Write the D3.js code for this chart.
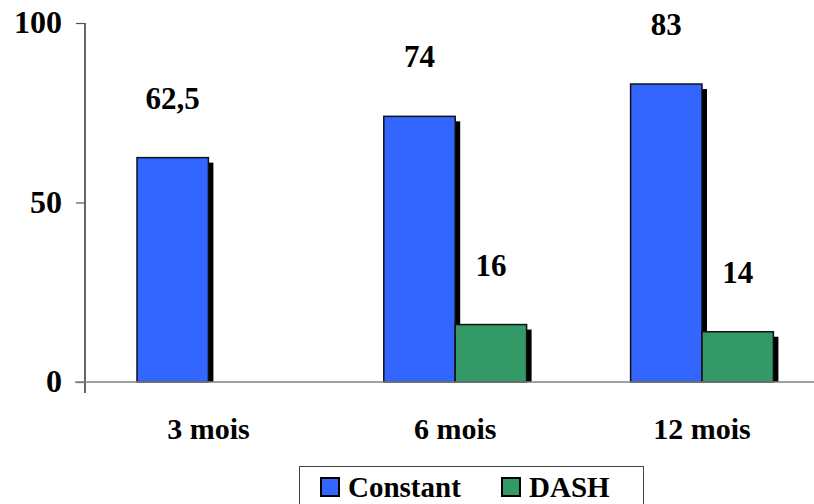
<!DOCTYPE html>
<html>
<head>
<meta charset="utf-8">
<script src="https://cdn.jsdelivr.net/npm/d3@7"></script>
<style>
  html, body { margin: 0; padding: 0; background: #fff; }
  svg { display: block; }
  text { font-family: "Liberation Serif", "Times New Roman", serif; font-weight: bold; fill: #000; }
</style>
</head>
<body>
<script>
const categories = ["3 mois", "6 mois", "12 mois"];
const seriesNames = ["Constant", "DASH"];
const constantValues = [62.5, 74, 83];
const dashValues = [null, 16, 14];
const valueLabels = [["62,5", "74", "83"], [null, "16", "14"]];
const yTicks = [0, 50, 100];
const colors = ["#3366FF", "#339966"];

const W = 814, H = 504;
const FONT = '"Liberation Serif", "Times New Roman", serif';
const svg = d3.select("body").append("svg").attr("width", W).attr("height", H);

const y = d3.scaleLinear().domain([0, 100]).range([382, 23]);
const x0 = d3.scaleBand().domain(categories).range([85, 825.4])
  .paddingInner(0.4214).paddingOuter(0.2107);
const x1 = d3.scaleBand().domain(seriesNames).range([0, x0.bandwidth()]);

const data = categories.map((c, i) => ({
  cat: c,
  vals: [
    { s: seriesNames[0], v: constantValues[i], label: valueLabels[0][i], color: colors[0] },
    { s: seriesNames[1], v: dashValues[i], label: valueLabels[1][i], color: colors[1] }
  ].filter(d => d.v != null)
}));

const groups = svg.selectAll("g.cat").data(data).join("g")
  .attr("class", "cat")
  .attr("transform", d => `translate(${x0(d.cat)},0)`);

groups.selectAll("rect.shadow").data(d => d.vals).join("rect")
  .attr("class", "shadow")
  .attr("x", d => x1(d.s) + 5)
  .attr("y", d => y(d.v) + 5)
  .attr("width", x1.bandwidth())
  .attr("height", d => y(0) - y(d.v) - 5)
  .attr("fill", "#000");

groups.selectAll("rect.bar").data(d => d.vals).join("rect")
  .attr("class", "bar")
  .attr("x", d => x1(d.s))
  .attr("y", d => y(d.v))
  .attr("width", x1.bandwidth())
  .attr("height", d => y(0) - y(d.v))
  .attr("fill", d => d.color)
  .attr("stroke", "#111")
  .attr("stroke-width", 1.5);

groups.selectAll("text.val").data(d => d.vals).join("text")
  .attr("class", "val")
  .attr("x", d => x1(d.s) + x1.bandwidth() / 2)
  .attr("y", d => y(d.v) - 49)
  .attr("text-anchor", "middle")
  .style("font-size", "31px")
  .style("font-family", FONT)
  .text(d => d.label);

// Y axis
const yAxis = svg.append("g").attr("transform", "translate(85,0)")
  .call(d3.axisLeft(y).tickValues(yTicks).tickSize(9).tickPadding(14));
yAxis.select(".domain").attr("stroke", "#000").attr("stroke-width", 1.2)
  .attr("d", `M0,${y(100)}V${y(0) + 11}`);
yAxis.selectAll(".tick line").attr("stroke", "#555").attr("stroke-width", 1.2);
yAxis.selectAll(".tick text")
  .style("font-size", "32px")
  .style("font-family", FONT)
  .style("font-weight", "bold")
  .attr("fill", "#000")
  .attr("dy", "0.3em");

// X axis
const xAxis = svg.append("g").attr("transform", `translate(0,${y(0)})`)
  .call(d3.axisBottom(x0).tickSize(0).tickPadding(36));
xAxis.select(".domain").attr("stroke", "#808080").attr("stroke-width", 1.5)
  .attr("d", `M75,0H${W}`);
xAxis.selectAll(".tick text")
  .style("font-size", "30px")
  .style("font-family", FONT)
  .style("font-weight", "bold")
  .attr("fill", "#000")
  .attr("dy", "0.71em");

// Legend
const legend = svg.append("g");
legend.append("rect")
  .attr("x", 299.5).attr("y", 466.5).attr("width", 344).attr("height", 50)
  .attr("fill", "#fff").attr("stroke", "#444").attr("stroke-width", 1);
const legendX = [321, 502];
seriesNames.forEach((s, i) => {
  legend.append("rect")
    .attr("x", legendX[i]).attr("y", 478).attr("width", 18).attr("height", 18)
    .attr("fill", colors[i]).attr("stroke", "#000").attr("stroke-width", 2);
  legend.append("text")
    .attr("x", legendX[i] + 27).attr("y", 497)
    .style("font-size", "29px")
    .style("font-family", FONT)
    .text(s);
});
</script>
</body>
</html>
